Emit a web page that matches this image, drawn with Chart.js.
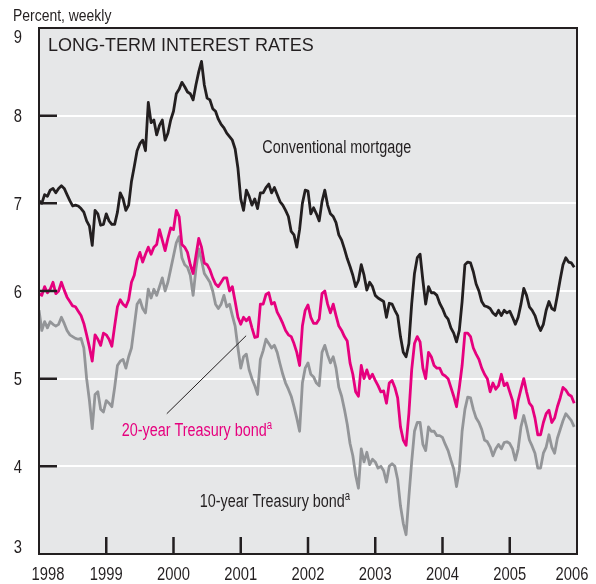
<!DOCTYPE html>
<html>
<head>
<meta charset="utf-8">
<script src="https://cdn.jsdelivr.net/npm/chart.js@4.4.1/dist/chart.umd.min.js"></script>
<style>
  html, body { margin: 0; padding: 0; background: #fff; }
  #wrap { width: 596px; height: 584px; }
</style>
</head>
<body>
<div id="wrap"><canvas id="rates"></canvas></div>
<script>
/* Long-term interest rates, half-monthly readings Jan 1998 - Dec 2005 (percent) */

const mortgage = [
  7.03, 7.00, 7.10, 7.08, 7.15, 7.17, 7.12, 7.17, 7.20, 7.17, 7.10, 7.03,
  6.97, 6.98, 6.97, 6.94, 6.90, 6.80, 6.74, 6.52, 6.92, 6.88, 6.75, 6.76,
  6.88, 6.80, 6.76, 6.76, 6.90, 7.12, 7.05, 6.92, 6.98, 7.25, 7.42, 7.60,
  7.68, 7.72, 7.60, 8.15, 7.92, 7.95, 7.78, 7.89, 7.95, 7.72, 7.80, 7.95,
  8.05, 8.25, 8.30, 8.38, 8.33, 8.27, 8.25, 8.18, 8.35, 8.50, 8.62, 8.35,
  8.20, 8.18, 8.08, 8.05, 7.96, 7.90, 7.86, 7.80, 7.76, 7.72, 7.62, 7.40,
  7.05, 6.92, 7.15, 7.08, 6.98, 7.05, 6.94, 7.12, 7.12, 7.18, 7.22, 7.12,
  7.18, 7.10, 7.02, 6.98, 6.92, 6.85, 6.68, 6.64, 6.50, 6.70, 7.00, 7.15,
  7.14, 6.88, 6.95, 6.88, 6.80, 7.02, 7.15, 6.98, 6.88, 6.85, 6.78, 6.64,
  6.58, 6.48, 6.37, 6.28, 6.18, 6.05, 6.12, 6.30, 6.18, 6.01, 6.10, 6.05,
  5.95, 5.92, 5.90, 5.88, 5.70, 5.86, 5.85, 5.78, 5.72, 5.48, 5.30, 5.25,
  5.40, 5.85, 6.20, 6.38, 6.42, 6.12, 5.85, 6.05, 5.98, 5.98, 5.95, 5.86,
  5.80, 5.72, 5.68, 5.58, 5.52, 5.42, 5.55, 5.88, 6.30, 6.33, 6.32, 6.22,
  6.08, 6.00, 5.88, 5.83, 5.82, 5.80, 5.75, 5.72, 5.78, 5.72, 5.78, 5.75,
  5.77, 5.70, 5.62, 5.70, 5.85, 6.03, 5.95, 5.82, 5.78, 5.72, 5.62, 5.55,
  5.62, 5.78, 5.88, 5.80, 5.78, 5.95, 6.13, 6.30, 6.38, 6.33, 6.32, 6.27
];

const treasury20 = [
  5.97, 5.95, 6.05, 5.98, 6.02, 6.10, 5.97, 6.00, 6.10, 6.01, 5.93, 5.88,
  5.83, 5.82, 5.77, 5.72, 5.63, 5.50, 5.36, 5.20, 5.50, 5.45, 5.38, 5.52,
  5.50, 5.45, 5.37, 5.60, 5.82, 5.90, 5.85, 5.82, 5.90, 6.10, 6.18, 6.35,
  6.44, 6.33, 6.42, 6.50, 6.42, 6.50, 6.53, 6.70, 6.58, 6.46, 6.60, 6.72,
  6.70, 6.92, 6.85, 6.53, 6.50, 6.44, 6.30, 6.20, 6.40, 6.60, 6.50, 6.32,
  6.30, 6.24, 6.15, 6.08, 6.05, 6.10, 6.15, 6.15, 6.00, 6.05, 5.88, 5.70,
  5.62, 5.70, 5.66, 5.70, 5.58, 5.47, 5.48, 5.85, 5.85, 5.96, 5.98, 5.85,
  5.87, 5.76, 5.70, 5.63, 5.55, 5.50, 5.48, 5.40, 5.30, 5.15, 5.60, 5.78,
  5.84, 5.70, 5.63, 5.63, 5.68, 5.97, 6.00, 5.85, 5.75, 5.85, 5.72, 5.60,
  5.55, 5.48, 5.43, 5.18, 5.05, 4.85, 4.80, 5.15, 5.00, 5.10, 5.00, 5.05,
  4.98, 4.92, 4.85, 4.86, 4.72, 4.95, 4.98, 4.90, 4.78, 4.45, 4.30, 4.24,
  4.60, 5.10, 5.40, 5.48, 5.42, 5.12, 5.00, 5.30, 5.25, 5.15, 5.12, 5.12,
  5.05, 5.03, 5.00, 4.90, 4.80, 4.68, 4.90, 5.15, 5.52, 5.52, 5.48, 5.35,
  5.28, 5.22, 5.12, 5.05, 5.00, 4.85, 4.95, 4.88, 4.92, 5.05, 4.92, 4.95,
  4.85, 4.75, 4.55, 4.75, 4.88, 5.00, 4.85, 4.72, 4.68, 4.55, 4.36, 4.36,
  4.50, 4.60, 4.64, 4.50, 4.55, 4.68, 4.78, 4.90, 4.87, 4.82, 4.80, 4.72
];

const treasury10 = [
  5.78, 5.55, 5.65, 5.58, 5.65, 5.62, 5.60, 5.62, 5.70, 5.63, 5.55, 5.50,
  5.48, 5.46, 5.45, 5.46, 5.35, 5.00, 4.75, 4.43, 4.82, 4.85, 4.65, 4.62,
  4.75, 4.72, 4.68, 4.90, 5.15, 5.20, 5.22, 5.12, 5.25, 5.35, 5.60, 5.85,
  5.90, 5.80, 5.75, 6.02, 5.92, 6.02, 5.95, 6.05, 6.15, 6.00, 6.10, 6.25,
  6.40, 6.55, 6.62, 6.38, 6.30, 6.27, 6.18, 5.95, 6.25, 6.48, 6.35, 6.20,
  6.15, 6.10, 6.00, 5.85, 5.80, 5.85, 5.95, 5.82, 5.85, 5.72, 5.60, 5.35,
  5.12, 5.25, 5.28, 5.10, 5.00, 4.92, 4.82, 5.22, 5.32, 5.45, 5.40, 5.35,
  5.38, 5.30, 5.17, 5.05, 4.95, 4.88, 4.80, 4.68, 4.55, 4.40, 4.95, 5.12,
  5.18, 5.05, 5.02, 4.95, 4.92, 5.30, 5.38, 5.27, 5.18, 5.25, 5.12, 4.90,
  4.80, 4.65, 4.48, 4.26, 4.12, 3.90, 3.75, 4.20, 4.05, 4.16, 4.02, 4.08,
  4.05, 3.98, 4.00, 3.95, 3.82, 4.00, 4.03, 4.00, 3.85, 3.55, 3.35, 3.22,
  3.65, 4.05, 4.40, 4.50, 4.50, 4.25, 4.18, 4.45, 4.40, 4.40, 4.35, 4.35,
  4.33, 4.25, 4.18, 4.07, 3.97, 3.77, 3.95, 4.40, 4.65, 4.79, 4.78, 4.65,
  4.55, 4.50, 4.42, 4.30, 4.28, 4.22, 4.12, 4.20, 4.25, 4.20, 4.27, 4.28,
  4.26, 4.20, 4.07, 4.20, 4.45, 4.58, 4.45, 4.30, 4.23, 4.15, 3.98, 3.98,
  4.15, 4.22, 4.36, 4.22, 4.15, 4.32, 4.42, 4.52, 4.60, 4.56, 4.52, 4.45
];

const yearTicks  = [1998, 1999, 2000, 2001, 2002, 2003, 2004, 2005, 2006];
const yearLabels = ['1998', '1999', '2000', '2001', '2002', '2003', '2004', '2005', '2006'];
const rateTicks  = [3, 4, 5, 6, 7, 8, 9];
const rateLabels = ['3', '4', '5', '6', '7', '8', '9'];

// two readings a month, starting with the first half of January 1998
const dates = mortgage.map((_, i) => 1998 + i / 24);
const points = series => series.map((v, i) => ({ x: dates[i], y: v }));

const INK   = '#231f20';
const PINK  = '#e6007e';
const GREY  = '#939598';
const PANEL = '#e6e7e8';
const FONT  = '"Liberation Sans", Arial, sans-serif';

// narrow text: the original uses a condensed face, so squeeze a regular one
function narrowText(ctx, text, x, y, size, color, align, squeeze = 0.8) {
  ctx.save();
  ctx.font = `${size}px ${FONT}`;
  ctx.fillStyle = color;
  ctx.textBaseline = 'alphabetic';
  ctx.textAlign = 'left';
  const w = ctx.measureText(text).width * squeeze;
  let left = x;
  if (align === 'center') left = x - w / 2;
  else if (align === 'right') left = x - w;
  ctx.translate(left, y);
  ctx.scale(squeeze, 1);
  ctx.fillText(text, 0, 0);
  ctx.restore();
  return w;
}

function labelWithNote(ctx, text, x, y, color) {
  const w = narrowText(ctx, text, x, y, 18, color, 'left');
  narrowText(ctx, 'a', x + w, y - 7, 12, color, 'left');
}

const panelPlugin = {
  id: 'panel',
  beforeDraw(chart) {
    const { ctx, chartArea: a } = chart;
    ctx.save();
    ctx.fillStyle = PANEL;
    ctx.fillRect(a.left, a.top, a.right - a.left, a.bottom - a.top);
    ctx.restore();
  },
  afterDatasetsDraw(chart) {
    const { ctx, chartArea: a } = chart;
    const xs = chart.scales.x;
    const ys = chart.scales.y;
    ctx.save();

    // inward tick marks
    ctx.strokeStyle = INK;
    ctx.lineWidth = 2.5;
    ctx.beginPath();
    rateTicks.slice(1, -1).forEach(v => {
      const py = ys.getPixelForValue(v);
      ctx.moveTo(a.left, py);
      ctx.lineTo(a.left + 18, py);
    });
    yearTicks.slice(1, -1).forEach(t => {
      const px = xs.getPixelForValue(t);
      ctx.moveTo(px, a.bottom);
      ctx.lineTo(px, a.bottom - 17);
    });
    ctx.stroke();

    // frame
    ctx.lineWidth = 2;
    ctx.strokeRect(a.left, a.top, a.right - a.left, a.bottom - a.top);

    // axis labels
    rateTicks.forEach((v, i) => {
      let base = ys.getPixelForValue(v) + 6.5;
      if (v === 9) base = a.top + 15;
      if (v === 3) base = a.bottom - 1;
      narrowText(ctx, rateLabels[i], a.left - 17, base, 18, INK, 'right', 0.82);
    });
    yearTicks.forEach((t, i) => {
      let cx = xs.getPixelForValue(t);
      if (i === 0) cx += 9;
      if (i === yearTicks.length - 1) cx -= 5;
      narrowText(ctx, yearLabels[i], cx, a.bottom + 26, 18, INK, 'center', 0.82);
    });
    narrowText(ctx, 'Percent, weekly', 13, 21, 17, INK, 'left', 0.82);

    // title
    ctx.font = `18px ${FONT}`;
    ctx.fillStyle = INK;
    ctx.textAlign = 'left';
    ctx.textBaseline = 'alphabetic';
    ctx.fillText('LONG-TERM INTEREST RATES', a.left + 9, a.top + 23);

    // series labels
    narrowText(ctx, 'Conventional mortgage', xs.getPixelForValue(2001.32), ys.getPixelForValue(7.57), 18, INK, 'left');
    labelWithNote(ctx, '20-year Treasury bond', xs.getPixelForValue(1999.23), ys.getPixelForValue(4.35), PINK);
    labelWithNote(ctx, '10-year Treasury bond', xs.getPixelForValue(2000.39), ys.getPixelForValue(3.54), INK);

    // leader from the 20-year label to its line
    ctx.strokeStyle = INK;
    ctx.lineWidth = 1;
    ctx.beginPath();
    ctx.moveTo(xs.getPixelForValue(1999.90), ys.getPixelForValue(4.60));
    ctx.lineTo(xs.getPixelForValue(2001.08), ys.getPixelForValue(5.49));
    ctx.stroke();

    ctx.restore();
  }
};

const lineStyle = color => ({
  borderColor: color,
  backgroundColor: color,
  borderWidth: 2.8,
  borderJoinStyle: 'round',
  pointRadius: 0,
  tension: 0,
  fill: false,
});

new Chart(document.getElementById('rates'), {
  type: 'line',
  data: {
    datasets: [
      { label: 'Conventional mortgage', data: points(mortgage), order: 1, ...lineStyle(INK) },
      { label: '20-year Treasury bond', data: points(treasury20), order: 2, ...lineStyle(PINK) },
      { label: '10-year Treasury bond', data: points(treasury10), order: 3, ...lineStyle(GREY) },
    ],
  },
  options: {
    responsive: true,
    maintainAspectRatio: false,
    animation: false,
    devicePixelRatio: 1,
    layout: { padding: { top: 28, right: 19, bottom: 0, left: 0 } },
    plugins: {
      legend: { display: false },
      tooltip: { enabled: false },
    },
    scales: {
      x: {
        type: 'linear',
        min: 1998,
        max: 2006,
        afterBuildTicks: s => { s.ticks = yearTicks.map(v => ({ value: v })); },
        afterFit: s => { s.height = 30; },
        ticks: { display: false },
        grid: { display: false },
        border: { display: false },
      },
      y: {
        min: 3,
        max: 9,
        afterBuildTicks: s => { s.ticks = rateTicks.map(v => ({ value: v })); },
        afterFit: s => { s.width = 39; },
        ticks: { display: false },
        grid: {
          color: c => (c.tick && c.tick.value > 3 && c.tick.value < 9) ? '#ffffff' : 'rgba(0,0,0,0)',
          lineWidth: 2,
          drawTicks: false,
        },
        border: { display: false },
      },
    },
  },
  plugins: [panelPlugin],
});
</script>
</body>
</html>
